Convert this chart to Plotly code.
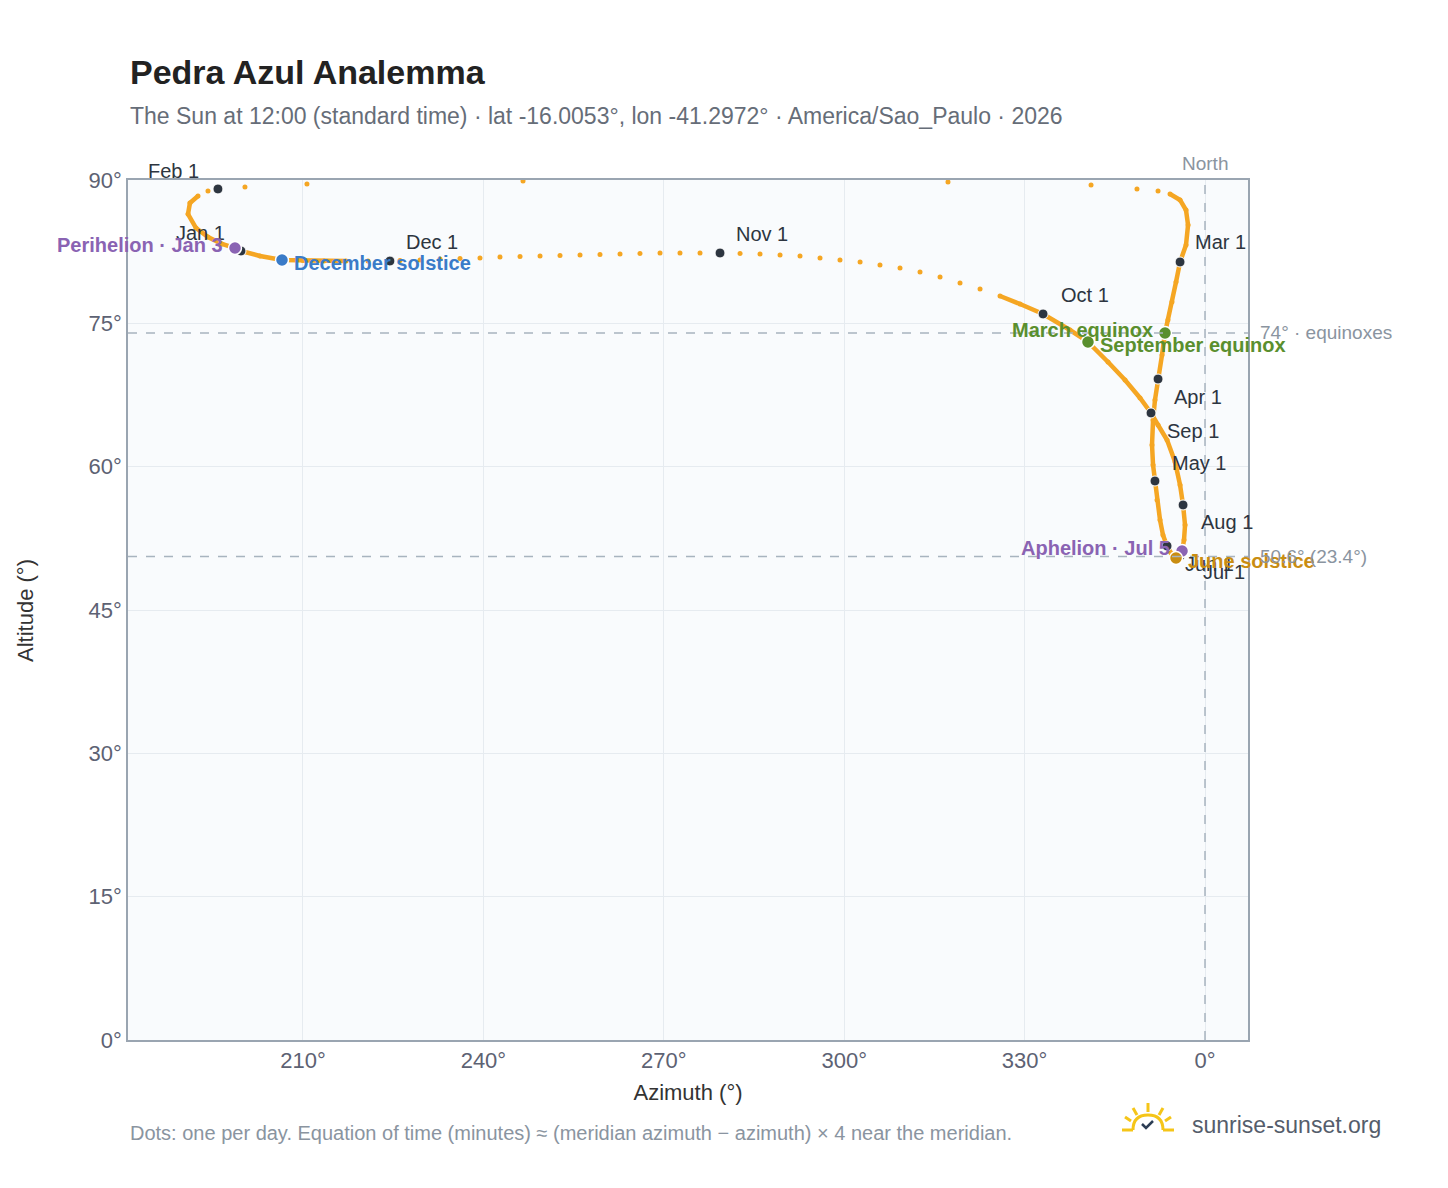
import plotly.graph_objects as go

# daily-ish sun positions (time order from Jan 1)
azimuth = [199.69,198.69,196.53,194.20,192.21,190.88,191.20,192.54,194.20,195.86,200.35,210.66,246.59,317.26,
           341.05,348.69,352.19,354.18,355.85,356.84,357.18,356.84,355.85,355.18,354.51,353.84,353.35,352.85,
           352.19,351.68,351.36,351.19,351.36,351.68,352.02,352.52,353.01,353.69,354.35,355.18,355.85,356.18,
           356.51,356.68,356.35,355.85,355.02,353.69,352.19,351.02,349.20,346.70,343.87,340.54,337.55,333.07,
           329.24,325.91,322.59,319.26,315.94,312.61,309.28,305.95,302.64,299.30,295.98,292.65,289.33,286.00,282.68,
           279.35,276.02,272.69,269.37,266.04,262.72,259.39,256.07,252.74,249.42,246.09,242.76,239.43,236.11,232.78,
           229.46,226.13,224.46,220.81,217.15,213.49,210.00,206.51,202.85,199.69]
altitude = [82.57,82.88,83.30,84.03,84.97,86.44,87.59,88.32,88.85,89.06,89.27,89.58,89.89,89.79,
            89.47,89.06,88.85,88.53,87.91,86.86,85.29,83.20,81.42,79.32,77.23,75.35,73.99,71.69,
            69.17,66.98,64.88,62.27,60.17,58.50,56.51,54.42,52.85,51.70,50.96,50.44,50.65,51.17,
            52.33,53.89,55.99,58.08,60.49,62.79,64.36,65.62,67.19,69.07,70.95,73.05,74.30,75.98,
            77.02,77.86,78.59,79.22,79.85,80.37,80.79,81.10,81.42,81.63,81.84,82.05,82.15,82.25,82.31,
            82.36,82.36,82.36,82.36,82.31,82.25,82.20,82.15,82.10,82.05,81.99,81.94,81.84,81.78,81.73,
            81.63,81.58,81.52,81.52,81.52,81.52,81.58,81.63,82.05,82.57]
# indices of the dense stretches drawn as a continuous band
dense_ranges = [(0, 7), (17, 57), (90, 95)]

month_labels = ["Jan 1","Feb 1","Mar 1","Apr 1","May 1","Jun 1","Jul 1","Aug 1","Sep 1","Oct 1","Nov 1","Dec 1"]
month_az =     [199.69,195.86,355.85,352.19,351.68,353.69,355.85,356.35,351.02,333.07,279.35,224.46]
month_alt =    [82.57, 89.06, 81.42, 69.17, 58.50, 51.70, 50.65, 55.99, 65.62, 75.98, 82.36, 81.52]
label_shift =  [(-40,18),(-44,18),(40,20),(40,-18),(44,18),(42,-18),(44,-16),(44,-17),(42,-18),(42,19),(42,19),(42,19)]

events = ["Perihelion · Jan 3","December solstice","March equinox","September equinox","Aphelion · Jul 5","June solstice"]
ev_az =  [198.69,206.51,353.35,340.54,356.18,355.18]
ev_alt = [82.88, 81.63, 73.99, 73.05, 51.17, 50.44]
ev_col = ["#8a63b3","#3a7bc8","#5a8f2e","#5a8f2e","#8a63b3","#c98d12"]
ev_side = ["left","right","left","right","left","right"]

ORANGE = "#f5a623"
fig = go.Figure()
lx, ly = [], []
for a, b in dense_ranges:
    lx += azimuth[a:b+1] + [None]
    ly += altitude[a:b+1] + [None]
fig.add_trace(go.Scatter(x=lx, y=ly, mode="lines", line=dict(color=ORANGE, width=4.5), hoverinfo="skip"))
fig.add_trace(go.Scatter(x=azimuth, y=altitude, mode="markers", marker=dict(color=ORANGE, size=5)))
fig.add_trace(go.Scatter(x=month_az, y=month_alt, mode="markers",
                         marker=dict(color="#2d3540", size=10, line=dict(color="white", width=1))))
fig.add_trace(go.Scatter(x=ev_az, y=ev_alt, mode="markers",
                         marker=dict(color=ev_col, size=13, line=dict(color="white", width=1.5))))

ann = []
for t, x, y, (dx, dy) in zip(month_labels, month_az, month_alt, label_shift):
    ann.append(dict(x=x, y=y, text=t, showarrow=False, xshift=dx, yshift=dy,
                    font=dict(size=20, color="#2d3540")))
for t, x, y, c, s in zip(events, ev_az, ev_alt, ev_col, ev_side):
    ann.append(dict(x=x, y=y, text="<b>" + t + "</b>", showarrow=False,
                    xanchor="right" if s == "left" else "left", xshift=-10 if s == "left" else 10,
                    yshift=-3 if s == "right" else 3, font=dict(size=20, color=c)))
ann += [
    dict(x=360, y=90, text="North", showarrow=False, yanchor="bottom", yshift=4, font=dict(size=19, color="#8a94a0")),
    dict(x=1, xref="paper", y=74, text="74° · equinoxes", showarrow=False, xanchor="left", xshift=10, font=dict(size=19, color="#8a94a0")),
    dict(x=1, xref="paper", y=50.6, text="50.6° (23.4°)", showarrow=False, xanchor="left", xshift=10, font=dict(size=19, color="#8a94a0")),
    dict(x=0, xref="paper", y=1.1256, yref="paper", text="<b>Pedra Azul Analemma</b>", showarrow=False,
         xanchor="left", yanchor="middle", font=dict(size=34, color="#222")),
    dict(x=0, xref="paper", y=1.0744, yref="paper", showarrow=False, xanchor="left", yanchor="middle",
         text="The Sun at 12:00 (standard time) · lat -16.0053°, lon -41.2972° · America/Sao_Paulo · 2026",
         font=dict(size=23, color="#666d78")),
    dict(x=0, xref="paper", y=-0.108, yref="paper", showarrow=False, xanchor="left", yanchor="middle",
         text="Dots: one per day. Equation of time (minutes) ≈ (meridian azimuth − azimuth) × 4 near the meridian.",
         font=dict(size=20, color="#8a94a0")),
    dict(x=(1190-128)/1120, xref="paper", y=(1040-1125)/860, yref="paper", showarrow=False, xanchor="left",
         yanchor="middle", text="sunrise-sunset.org", font=dict(size=23, color="#555d6b")),
    dict(x=-0.092, xref="paper", y=0.5, yref="paper", showarrow=False, textangle=-90, xanchor="center",
         yanchor="middle", text="Altitude (°)", font=dict(size=22, color="#333")),
]

def px(x): return (x-128)/1120
def py(y): return (1040-y)/860
shapes = [
    dict(type="line", xref="paper", x0=0, x1=1, y0=74, y1=74, line=dict(color="#a8b4bf", width=1.5, dash="dash")),
    dict(type="line", xref="paper", x0=0, x1=1, y0=50.6, y1=50.6, line=dict(color="#a8b4bf", width=1.5, dash="dash")),
    dict(type="line", x0=360, x1=360, yref="paper", y0=0, y1=1, line=dict(color="#a8b4bf", width=1.5, dash="dash")),
]
sun = "#f5c518"
for (x0, y0, x1, y1) in [(1122,1130,1133,1130),(1163,1130,1174,1130),(1148,1103,1148,1112),(1133,1108,1137,1115),(1163,1108,1159,1115),(1125,1117,1131,1121),(1171,1117,1165,1121)]:
    shapes.append(dict(type="line", xref="paper", yref="paper", x0=px(x0), x1=px(x1), y0=py(y0), y1=py(y1),
                       line=dict(color=sun, width=3)))
shapes.append(dict(type="path", xref="paper", yref="paper",
                   path=f"M {px(1133)} {py(1130)} Q {px(1133)} {py(1115)} {px(1148)} {py(1115)} Q {px(1163)} {py(1115)} {px(1163)} {py(1130)}",
                   line=dict(color=sun, width=3)))
shapes.append(dict(type="path", xref="paper", yref="paper",
                   path=f"M {px(1142)} {py(1124)} L {px(1146)} {py(1128)} L {px(1153)} {py(1121)}",
                   line=dict(color="#2d3e55", width=2.5)))

fig.update_layout(
    width=1448, height=1188, showlegend=False,
    margin=dict(l=120, r=208, t=172, b=156),
    paper_bgcolor="white", plot_bgcolor="#f9fbfd",
    font=dict(family="Liberation Sans, Arial, sans-serif"),
    xaxis=dict(range=[180.9, 367.15], tickvals=[210,240,270,300,330,360], automargin=False,
               ticktext=["210°","240°","270°","300°","330°","0°"], showgrid=True, gridcolor="#e6ebf0",
               zeroline=False, showline=True, linecolor="#9aa5b1", mirror=True, linewidth=1.5,
               ticks="", tickfont=dict(size=22, color="#5d6273"),
               title=dict(text="Azimuth (°)", font=dict(size=22, color="#333"), standoff=12)),
    yaxis=dict(range=[0, 90], tickvals=[0,15,30,45,60,75,90], ticktext=["0°","15°","30°","45°","60°","75°","90°"],
               automargin=False,
               showgrid=True, gridcolor="#e6ebf0", zeroline=False, showline=True, linecolor="#9aa5b1",
               mirror=True, linewidth=1.5, ticks="", tickfont=dict(size=22, color="#5d6273")),
    annotations=ann, shapes=shapes,
)
fig.write_html("out.html")
